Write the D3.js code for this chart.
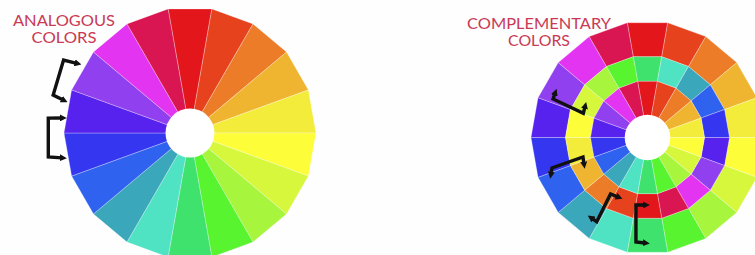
<!DOCTYPE html>
<html>
<head>
<meta charset="utf-8">
<script src="https://cdn.jsdelivr.net/npm/d3@7"></script>
<style>
  html, body { margin: 0; padding: 0; background: #fefefe; }
  svg { display: block; }
</style>
</head>
<body>
<script>
// colour wheel, 18 slices clockwise from the top
const segmentColors = [
    "#e3161c", "#e6421e", "#ec7c27", "#f0b530", "#f4ec3b", "#fdfd3a",
    "#d6f73c", "#a8f53d", "#57f42f", "#3fe26c", "#4fe3c3", "#3aa7bb",
    "#2f63ef", "#3536f0", "#5722ee", "#9140ef", "#e234f1", "#d91552"
];
// index shift of each ring on the right wheel (outer, middle, inner)
const ringShift = [0, 9, 0];

const leftTitle = ["ANALOGOUS", "COLORS"];
const rightTitle = ["COMPLEMENTARY", "COLORS"];
const leftTitleWidths = [102, 65];
const rightTitleWidths = [144, 62];

// brackets as [angle, radius] points: tip, spine, spine, tip
const leftBrackets = [
    [[301.6, 133], [300, 146], [285.5, 142], [284.6, 131]],
    [[276.7, 129], [276, 142.5], [260.4, 143.7], [259, 130.4]]
];
const rightBrackets = [
    [[295.5, 102.5], [292.2, 102], [290.7, 68.6], [296.2, 69.7]],
    [[249.3, 103.2], [252.3, 100.3], [253.2, 67.4], [247.4, 68.8]],
    [[206.4, 66.4], [213.2, 67.5], [211.1, 98.3], [214.6, 98.2]],
    [[182.1, 67.5], [189.7, 68.5], [186.3, 105.1], [181.4, 105.5]]
];

const svgWidth = 755;
const svgHeight = 255;

const svg = d3.select("body")
    .append("svg")
    .attr("width", svgWidth)
    .attr("height", svgHeight);

svg.append("defs").append("marker")
    .attr("id", "tip")
    .attr("viewBox", "0 0 10 10")
    .attr("refX", 3)
    .attr("refY", 5)
    .attr("markerWidth", 7)
    .attr("markerHeight", 7)
    .attr("markerUnits", "userSpaceOnUse")
    .attr("orient", "auto-start-reverse")
    .append("path")
    .attr("d", "M0,0 L10,5 L0,10 Z")
    .attr("fill", "#111");

const n = segmentColors.length;
// slice i runs from angle(i) to angle(i + 1), slice 0 centred on the top
const angle = d3.scaleLinear().domain([0, n]).range([-180 / n, 360 - 180 / n]);

function polar(cx, cy, a, r) {
    const t = a * Math.PI / 180;
    return [cx + r * Math.sin(t), cy - r * Math.cos(t)];
}

function drawWheel(cx, cy, rings, hole, brackets) {
    const g = svg.append("g");

    rings.forEach(ring => {
        g.append("g")
            .selectAll("polygon")
            .data(d3.range(n))
            .enter()
            .append("polygon")
            .attr("points", i => [
                polar(cx, cy, angle(i), ring.r0),
                polar(cx, cy, angle(i), ring.r1),
                polar(cx, cy, angle(i + 1), ring.r1),
                polar(cx, cy, angle(i + 1), ring.r0)
            ].map(p => p.join(",")).join(" "))
            .style("fill", i => segmentColors[(i + ring.shift) % n])
            .style("stroke", "rgba(255,255,255,0.4)")
            .style("stroke-width", 0.7)
            .style("stroke-linejoin", "round");
    });

    // white hole in the middle
    g.append("circle")
        .attr("cx", cx)
        .attr("cy", cy)
        .attr("r", hole)
        .style("fill", "#ffffff");

    const line = d3.line();
    g.selectAll("path.bracket")
        .data(brackets)
        .enter()
        .append("path")
        .attr("class", "bracket")
        .attr("d", d => line(d.map(p => polar(cx, cy, p[0], p[1]))))
        .attr("fill", "none")
        .attr("stroke", "#111")
        .attr("stroke-width", 3.4)
        .attr("stroke-linejoin", "miter")
        .attr("marker-start", "url(#tip)")
        .attr("marker-end", "url(#tip)");
}

function drawTitle(lines, widths, x, y0) {
    svg.append("g")
        .selectAll("text")
        .data(lines)
        .enter()
        .append("text")
        .attr("x", x)
        .attr("y", (d, i) => y0 + i * 17.2)
        .attr("text-anchor", "middle")
        .attr("textLength", (d, i) => widths[i])
        .attr("lengthAdjust", "spacingAndGlyphs")
        .style("font-family", "Lato, 'Open Sans', sans-serif")
        .style("font-size", "14.6px")
        .style("fill", "#c93a55")
        .text(d => d);
}

// left wheel: one ring of analogous colours
drawWheel(190, 133, [{ r0: 0, r1: 126, shift: ringShift[0] }], 24.5, leftBrackets);

// right wheel: outer ring, complementary middle ring, inner ring
drawWheel(647.5, 137.5, [
    { r0: 82, r1: 116.5, shift: ringShift[0] },
    { r0: 57, r1: 82, shift: ringShift[1] },
    { r0: 0, r1: 57, shift: ringShift[2] }
], 22.8, rightBrackets);

drawTitle(leftTitle, leftTitleWidths, 64, 25.5);
drawTitle(rightTitle, rightTitleWidths, 539, 28.5);
</script>
</body>
</html>
